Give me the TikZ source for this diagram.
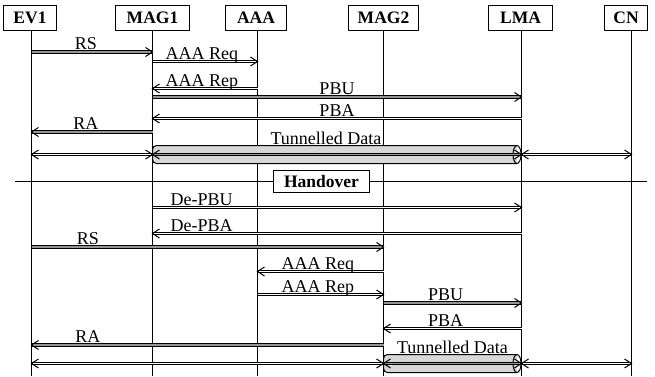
\documentclass[tikz,border=0pt]{standalone}
\usepackage{fontspec}
\setmainfont{Liberation Serif}
\usetikzlibrary{decorations.markings}
\definecolor{msggray}{RGB}{150,150,150}
\definecolor{tubegray}{RGB}{215,215,215}
\tikzset{
 hdr/.style={draw, line width=1pt, fill=white, font=\fontsize{17.5}{20}\selectfont\bfseries, inner sep=0pt, minimum height=25pt},
 lifeline/.style={line width=1pt},
 tipE/.style={postaction={decorate, decoration={markings, mark=at position 1 with {\draw[black, line width=1pt] (-7pt,4.5pt) .. controls (-4pt,1.5pt) .. (0pt,0pt) .. controls (-4pt,-1.5pt) .. (-7pt,-4.5pt);}}}},
 tipS/.style={postaction={decorate, decoration={markings, mark=at position 0 with {\draw[black, line width=1pt] (7pt,4.5pt) .. controls (4pt,1.5pt) .. (0pt,0pt) .. controls (4pt,-1.5pt) .. (7pt,-4.5pt);}}}},
 wline/.style={draw=white, line width=1pt, preaction={draw=black, line width=3pt}},
 gline/.style={draw=msggray, line width=2pt, preaction={draw=black, line width=4pt}},
 wmsg/.style={wline, tipE},
 gmsg/.style={gline, tipE},
 bmsg/.style={wline, tipE, tipS},
 tmsg/.style={draw=msggray, line width=1pt, preaction={draw=black, line width=3pt}, tipE, tipS},
 tube/.style={line width=1pt, fill=tubegray, rounded corners=4pt},
 lbl/.style={font=\fontsize{18}{20}\selectfont, anchor=base, inner sep=0pt, yshift=2.5pt},
 tlbl/.style={font=\fontsize{18}{20}\selectfont, anchor=base, inner sep=0pt, yshift=10.5pt},
 hobox/.style={draw, line width=1pt, fill=white, font=\fontsize{17.5}{20}\selectfont\bfseries, minimum width=96pt, minimum height=22pt, inner sep=0pt},
}
\begin{document}
\begin{tikzpicture}[x=1pt, y=-1pt]
\useasboundingbox (0,0) rectangle (655,376);
% lifeline x positions
\coordinate (L1) at (31.5,0);
\coordinate (L2) at (152.5,0);
\coordinate (L3) at (257.5,0);
\coordinate (L4) at (383.5,0);
\coordinate (L5) at (521.5,0);
\coordinate (L6) at (631.5,0);
% headers
\node[hdr, minimum width=53pt] (ev1) at (30,18) {EV1};
\node[hdr, minimum width=74pt] (mag1) at (152.5,18) {MAG1};
\node[hdr, minimum width=61pt] (aaa) at (256,18) {AAA};
\node[hdr, minimum width=70pt] (mag2) at (383.5,18) {MAG2};
\node[hdr, minimum width=64pt] (lma) at (520.5,18) {LMA};
\node[hdr, minimum width=43pt] (cn) at (626,18) {CN};
% lifelines
\draw[lifeline] (ev1.south -| L1) -- (L1 |- 0,376);
\draw[lifeline] (mag1.south -| L2) -- (L2 |- 0,376);
\draw[lifeline] (aaa.south -| L3) -- (L3 |- 0,376);
\draw[lifeline] (mag2.south -| L4) -- (L4 |- 0,376);
\draw[lifeline] (lma.south -| L5) -- (L5 |- 0,376);
\draw[lifeline] (cn.south -| L6) -- (L6 |- 0,376);
% first attachment
\draw[gmsg] (L1 |- 0,52) -- node[lbl, pos=.45] {RS} (L2 |- 0,52);
\draw[wmsg] (L2 |- 0,61.5) -- node[lbl, pos=.47] {AAA Req} (L3 |- 0,61.5);
\draw[wmsg] (L3 |- 0,88.5) -- node[lbl, pos=.53] {AAA Rep} (L2 |- 0,88.5);
\draw[gmsg] (L2 |- 0,97) -- node[lbl, pos=.5] {PBU} (L5 |- 0,97);
\draw[wmsg] (L5 |- 0,118.5) -- node[lbl, pos=.5] {PBA} (L2 |- 0,118.5);
\draw[gmsg] (L2 |- 0,132) -- node[lbl, pos=.55] {RA} (L1 |- 0,132);
\draw[bmsg] (L1 |- 0,154.5) -- (L2 |- 0,154.5);
\draw[tube] (517,145.5) -- (152.5,145.5) -- (152.5,163.5) -- (517,163.5);
\draw[line width=1pt] (517,154.5) ellipse [x radius=4pt, y radius=9pt];
\draw[tmsg] (L2 |- 0,154.5) -- node[tlbl, pos=.47] {Tunnelled Data} (L5 |- 0,154.5);
\draw[bmsg] (L5 |- 0,154.5) -- (L6 |- 0,154.5);
% handover
\coordinate (hoL) at (15,181.5);
\coordinate (hoR) at (647,181.5);
\draw[line width=1pt] (hoL) -- (hoR);
\node[hobox] (ho) at (321.5,181.5) {Handover};
% second attachment
\draw[wmsg] (L2 |- 0,207.5) -- node[lbl, pos=.133] {De-PBU} (L5 |- 0,207.5);
\draw[wmsg] (L5 |- 0,233.5) -- node[lbl, pos=.867] {De-PBA} (L2 |- 0,233.5);
\draw[gmsg] (L1 |- 0,247) -- node[lbl, pos=.16] {RS} (L4 |- 0,247);
\draw[wmsg] (L4 |- 0,271.5) -- node[lbl, pos=.52] {AAA Req} (L3 |- 0,271.5);
\draw[wmsg] (L3 |- 0,294.5) -- node[lbl, pos=.48] {AAA Rep} (L4 |- 0,294.5);
\draw[gmsg] (L4 |- 0,303) -- node[lbl, pos=.45] {PBU} (L5 |- 0,303);
\draw[wmsg] (L5 |- 0,328.5) -- node[lbl, pos=.55] {PBA} (L4 |- 0,328.5);
\draw[gmsg] (L4 |- 0,345) -- node[lbl, pos=.84] {RA} (L1 |- 0,345);
\draw[bmsg] (L1 |- 0,363.5) -- (L4 |- 0,363.5);
\draw[tube] (517,354.5) -- (383.5,354.5) -- (383.5,372.5) -- (517,372.5);
\draw[line width=1pt] (517,363.5) ellipse [x radius=4pt, y radius=9pt];
\draw[tmsg] (L4 |- 0,363.5) -- node[tlbl, pos=.5] {Tunnelled Data} (L5 |- 0,363.5);
\draw[bmsg] (L5 |- 0,363.5) -- (L6 |- 0,363.5);
\end{tikzpicture}
\end{document}
